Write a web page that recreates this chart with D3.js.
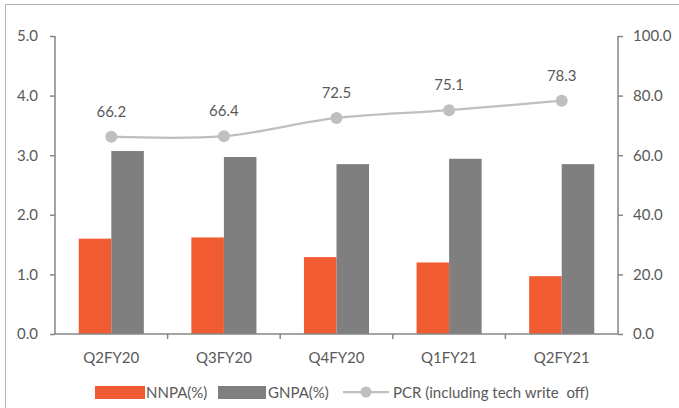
<!DOCTYPE html>
<html>
<head>
<meta charset="utf-8">
<script src="https://cdn.jsdelivr.net/npm/d3@7"></script>
<style>
  html, body { margin: 0; padding: 0; background: #fff; }
  svg { display: block; font-family: Lato, "Open Sans", sans-serif; }
</style>
</head>
<body>
<svg id="chart" width="679" height="408"></svg>
<script>
// Quarterly asset-quality data
const quarters = ["Q2FY20", "Q3FY20", "Q4FY20", "Q1FY21", "Q2FY21"];
const nnpa = [1.60, 1.62, 1.29, 1.20, 0.97];
const gnpa = [3.07, 2.97, 2.85, 2.94, 2.85];
const pcr = [66.2, 66.4, 72.5, 75.1, 78.3];
const leftTicks = [0, 1, 2, 3, 4, 5];
const rightTicks = [0, 20, 40, 60, 80, 100];
const seriesNames = ["NNPA(%)", "GNPA(%)", "PCR (including tech write  off)"];

const colors = { nnpa: "#F05B32", gnpa: "#7F7F7F", pcr: "#BFBFBF", axis: "#868686", text: "#595959" };
const fontSize = 15;

const svg = d3.select("#chart");

// Frame lines along the top and left edges
svg.append("line").attr("x1", 5.5).attr("x2", 5.5).attr("y1", 4).attr("y2", 408)
  .attr("stroke", "#B4B4B4").attr("stroke-width", 1);
svg.append("line").attr("x1", 5).attr("x2", 679).attr("y1", 4.5).attr("y2", 4.5)
  .attr("stroke", "#B4B4B4").attr("stroke-width", 1);

const plot = { left: 55, right: 618, top: 36, bottom: 334 };

const x = d3.scaleBand().domain(quarters).range([plot.left, plot.right]).padding(0);
const yL = d3.scaleLinear().domain([0, 5]).range([plot.bottom, plot.top]);
const yR = d3.scaleLinear().domain([0, 100]).range([plot.bottom, plot.top]);

const barW = x.step() * 0.289;
const cx = q => x(q) + x.bandwidth() / 2;

// Bars
const g = svg.append("g");
g.selectAll("rect.nnpa").data(quarters).join("rect")
  .attr("class", "nnpa")
  .attr("x", q => cx(q) - barW)
  .attr("width", barW)
  .attr("y", (q, i) => yL(nnpa[i]))
  .attr("height", (q, i) => yL(0) - yL(nnpa[i]))
  .attr("fill", colors.nnpa);
g.selectAll("rect.gnpa").data(quarters).join("rect")
  .attr("class", "gnpa")
  .attr("x", q => cx(q))
  .attr("width", barW)
  .attr("y", (q, i) => yL(gnpa[i]))
  .attr("height", (q, i) => yL(0) - yL(gnpa[i]))
  .attr("fill", colors.gnpa);

// Left axis
const leftAxis = svg.append("g").attr("transform", `translate(${plot.left},0)`)
  .call(d3.axisLeft(yL).tickValues(leftTicks).tickFormat(d3.format(".1f")).tickSize(5).tickPadding(12));
// Right axis
const rightAxis = svg.append("g").attr("transform", `translate(${plot.right},0)`)
  .call(d3.axisRight(yR).tickValues(rightTicks).tickFormat(d3.format(".1f")).tickSize(5).tickPadding(10));
[leftAxis, rightAxis].forEach(a => {
  a.select(".domain").attr("stroke", colors.axis).attr("stroke-width", 1.5)
    .attr("d", `M${0},${plot.top}V${plot.bottom}`);
  a.selectAll(".tick line").attr("stroke", colors.axis).attr("stroke-width", 1.5);
  a.selectAll(".tick text").attr("fill", colors.text).attr("font-size", fontSize).attr("font-family", "Lato, sans-serif");
});

// Category axis along the bottom, with ticks between categories
const bottomAxis = svg.append("g").attr("transform", `translate(0,${plot.bottom})`);
bottomAxis.append("line").attr("x1", plot.left).attr("x2", plot.right)
  .attr("stroke", colors.axis).attr("stroke-width", 1.5);
bottomAxis.selectAll("line.sep").data(quarters.slice(1)).join("line")
  .attr("class", "sep")
  .attr("x1", q => x(q)).attr("x2", q => x(q))
  .attr("y1", 0).attr("y2", 5)
  .attr("stroke", colors.axis).attr("stroke-width", 1.5);
bottomAxis.selectAll("text").data(quarters).join("text")
  .attr("x", q => cx(q)).attr("y", 29)
  .attr("text-anchor", "middle").attr("fill", colors.text).attr("font-size", fontSize)
  .text(q => q);

// PCR line on the right axis
const line = d3.line()
  .x((d, i) => cx(quarters[i]))
  .y(d => yR(d))
  .curve(d3.curveCatmullRom.alpha(0.5));
svg.append("path").datum(pcr).attr("d", line)
  .attr("fill", "none").attr("stroke", colors.pcr).attr("stroke-width", 2.25);
svg.selectAll("circle.pcr").data(pcr).join("circle")
  .attr("class", "pcr")
  .attr("cx", (d, i) => cx(quarters[i])).attr("cy", d => yR(d)).attr("r", 6)
  .attr("fill", colors.pcr);
svg.selectAll("text.pcr").data(pcr).join("text")
  .attr("class", "pcr")
  .attr("x", (d, i) => cx(quarters[i])).attr("y", d => yR(d) - 20)
  .attr("text-anchor", "middle").attr("fill", colors.text).attr("font-size", fontSize)
  .text(d => d3.format(".1f")(d));

// Legend
const lg = svg.append("g");
lg.append("rect").attr("x", 95).attr("y", 386).attr("width", 50).attr("height", 13).attr("fill", colors.nnpa);
lg.append("text").attr("x", 146).attr("y", 398).attr("fill", colors.text).attr("font-size", fontSize).text(seriesNames[0]);
lg.append("rect").attr("x", 218).attr("y", 386).attr("width", 48).attr("height", 13).attr("fill", colors.gnpa);
lg.append("text").attr("x", 268).attr("y", 398).attr("fill", colors.text).attr("font-size", fontSize).text(seriesNames[1]);
lg.append("line").attr("x1", 343).attr("x2", 389).attr("y1", 392).attr("y2", 392)
  .attr("stroke", colors.pcr).attr("stroke-width", 2.25);
lg.append("circle").attr("cx", 366).attr("cy", 392).attr("r", 5.5).attr("fill", colors.pcr);
lg.append("text").attr("x", 393).attr("y", 398).attr("fill", colors.text).attr("font-size", fontSize)
  .style("white-space", "pre").text(seriesNames[2]);
</script>
</body>
</html>
